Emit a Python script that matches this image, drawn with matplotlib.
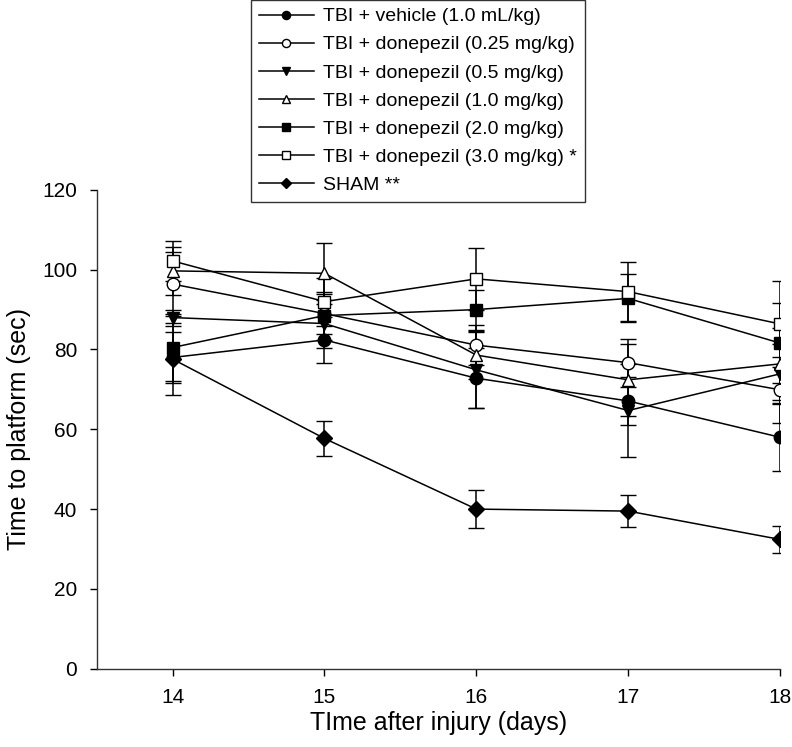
import numpy as np
import matplotlib
matplotlib.use("Agg")
import matplotlib.pyplot as plt

plt.rcParams['font.family'] = ['Liberation Sans', 'DejaVu Sans']

days = [14, 15, 16, 17, 18]

labels = [
    "TBI + vehicle (1.0 mL/kg)",
    "TBI + donepezil (0.25 mg/kg)",
    "TBI + donepezil (0.5 mg/kg)",
    "TBI + donepezil (1.0 mg/kg)",
    "TBI + donepezil (2.0 mg/kg)",
    "TBI + donepezil (3.0 mg/kg) *",
    "SHAM **",
]

vehicle = [78.0, 82.4, 72.8, 67.1, 58.0]
vehicle_err = [6.5, 5.7, 7.5, 6.0, 8.5]
don025 = [96.4, 89.0, 81.1, 76.7, 69.9]
don025_err = [8.0, 5.0, 5.0, 6.0, 8.3]
don05 = [88.0, 86.5, 74.9, 64.7, 73.9]
don05_err = [2.0, 6.0, 9.5, 11.6, 7.5]
don10 = [99.7, 99.1, 78.6, 72.4, 76.4]
don10_err = [6.0, 7.6, 6.0, 9.0, 9.0]
don20 = [80.5, 88.5, 90.0, 92.8, 81.6]
don20_err = [8.5, 6.0, 5.0, 6.0, 10.0]
don30 = [102.2, 92.0, 97.7, 94.5, 86.4]
don30_err = [5.0, 6.0, 7.7, 7.4, 10.8]
sham = [77.6, 57.7, 40.0, 39.5, 32.4]
sham_err = [9.0, 4.5, 4.7, 4.0, 3.4]

series = [vehicle, don025, don05, don10, don20, don30, sham]
errors = [vehicle_err, don025_err, don05_err, don10_err, don20_err, don30_err, sham_err]
markers = ['o', 'o', 'v', '^', 's', 's', 'D']
fills = ['black', 'white', 'black', 'white', 'black', 'white', 'black']
sizes = [9, 9, 9, 9, 8, 8, 8]

fig = plt.figure(figsize=(7.92, 7.47), dpi=100)
ax = fig.add_axes([0.122, 0.1048, 0.863, 0.641])

handles = []
for vals, err, m, fc, ms in zip(series, errors, markers, fills, sizes):
    h = ax.errorbar(days, vals, yerr=err, color='black', marker=m, markersize=ms,
                    markerfacecolor=fc, markeredgecolor='black', markeredgewidth=1.0,
                    linewidth=1.1, elinewidth=1.1, capsize=5.5, capthick=1.1)
    handles.append(h)

ax.set_xlim(13.5, 18)
ax.set_ylim(0, 120)
ax.set_xticks(days)
ax.set_yticks(np.arange(0, 121, 20))
for s in ['top', 'right']:
    ax.spines[s].set_visible(False)
for s in ['left', 'bottom']:
    ax.spines[s].set_linewidth(1.0)
    ax.spines[s].set_color('#333333')
ax.tick_params(direction='out', length=5, width=1.0, labelsize=15)
ax.tick_params(axis='y', pad=9)
ax.tick_params(axis='x', pad=9)
ax.set_xlabel("TIme after injury (days)", fontsize=18, labelpad=3)
ax.set_ylabel("Time to platform (sec)", fontsize=18, labelpad=8)

leg = fig.legend([h[0] for h in handles], labels, loc='upper center',
                 bbox_to_anchor=(0.528, 1.0), borderaxespad=0.0,
                 fontsize=14, markerscale=0.65,
                 handlelength=2.8, handletextpad=0.5, labelspacing=0.54,
                 borderpad=0.4, fancybox=False, frameon=True, edgecolor='black')
leg.get_frame().set_linewidth(1.0)

fig.savefig("out.png", dpi=100)
